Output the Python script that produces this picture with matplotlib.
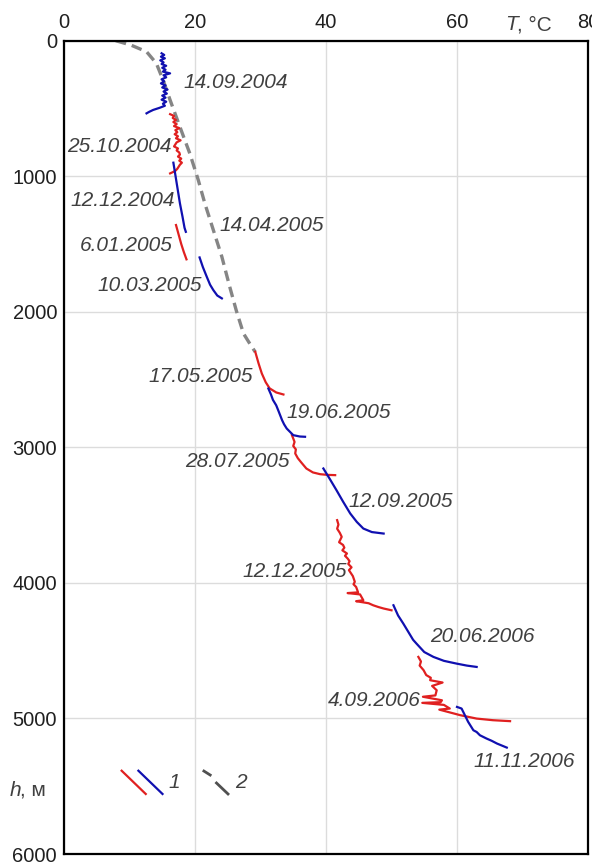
import matplotlib.pyplot as plt

plt.rcParams['font.family'] = ['Liberation Sans', 'DejaVu Sans']

# temperature profiles T (degC) vs depth h (m)
gray_T = [7.9, 10.2, 12.6, 14.1, 15.2, 16.2, 17.7, 19.2, 20.5, 21.5, 22.8, 24.1, 25.3, 26.3, 27.4, 28.3, 29.2]
gray_h = [0, 32, 81, 167, 300, 438, 636, 831, 1028, 1200, 1397, 1594, 1815, 1990, 2160, 2230, 2297]

s1409_T = [14.9, 15.3, 14.8, 15.4, 14.7, 15.2, 14.9, 15.6, 15.0, 15.5, 15.1, 16.2, 15.2, 15.6, 14.9, 15.3,
           14.8, 15.5, 15.0, 15.8, 15.2, 15.7, 15.0, 15.5, 14.9, 15.6, 15.1, 15.4, 14.6, 13.6, 13.0, 12.6]
s1409_h = [93, 105, 118, 130, 145, 160, 172, 185, 200, 214, 228, 241, 255, 270, 285, 300,
           315, 330, 345, 360, 375, 390, 405, 420, 435, 450, 465, 480, 495, 511, 525, 536]

s2510_T = [16.2, 16.8, 16.6, 17.1, 16.7, 17.2, 16.8, 17.6, 17.0, 17.3, 16.9, 17.4, 17.1, 17.8, 17.2, 17.0,
           16.8, 17.4, 17.2, 17.6, 17.7, 17.4, 17.9, 17.6, 18.0, 17.7, 17.5, 17.3, 17.0, 16.6, 16.2]
s2510_h = [542, 555, 570, 585, 600, 615, 630, 645, 660, 675, 690, 705, 720, 735, 750, 765,
           780, 795, 810, 825, 840, 855, 870, 885, 900, 915, 930, 945, 960, 970, 979]

s1212a_T = [16.7, 16.9, 17.3, 17.7, 18.1, 18.4, 18.6]
s1212a_h = [900, 960, 1080, 1200, 1300, 1380, 1410]

s0601_T = [17.1, 17.5, 17.9, 18.3, 18.7]
s0601_h = [1360, 1430, 1500, 1560, 1613]

s1003_T = [20.7, 21.2, 21.8, 22.3, 22.8, 23.4, 24.1]
s1003_h = [1599, 1670, 1742, 1800, 1840, 1880, 1901]

s1705_T = [29.2, 29.7, 30.2, 30.8, 31.4, 32.4, 33.5]
s1705_h = [2295, 2380, 2455, 2520, 2565, 2595, 2610]

s1906_T = [31.2, 31.6, 31.9, 32.4, 32.7, 33.3, 33.6, 34.0, 35.0, 36.0, 36.8]
s1906_h = [2566, 2610, 2650, 2690, 2726, 2800, 2830, 2861, 2910, 2920, 2922]

s2807_T = [34.8, 35.2, 35.0, 35.4, 35.3, 35.7, 36.2, 37.0, 38.0, 39.1, 40.2, 41.4]
s2807_h = [2910, 2960, 2990, 3015, 3045, 3080, 3110, 3156, 3185, 3198, 3203, 3205]

s1209_T = [39.6, 40.6, 41.6, 42.6, 43.7, 44.7, 45.7, 47.0, 48.8]
s1209_h = [3156, 3235, 3316, 3400, 3488, 3550, 3599, 3625, 3636]

s1212b_T = [41.7, 41.9, 41.7, 42.1, 42.4, 42.2, 42.0, 42.6, 42.8, 42.5, 43.2, 42.9, 43.3, 43.6, 43.4,
            43.9, 43.5, 44.1, 44.4, 44.2, 44.6, 44.9, 43.3, 45.2, 45.7, 44.6, 46.5, 47.2, 48.0, 48.8, 50.0]
s1212b_h = [3537, 3570, 3600, 3630, 3660, 3680, 3700, 3720, 3740, 3760, 3783, 3800, 3820, 3840, 3860,
            3885, 3906, 3950, 3992, 4010, 4030, 4070, 4075, 4085, 4128, 4135, 4150, 4165, 4178, 4189, 4202]

s2006_T = [50.3, 51.0, 51.8, 52.8, 53.3, 53.8, 55.0, 56.4, 58.0, 59.9, 61.5, 63.0]
s2006_h = [4165, 4240, 4300, 4380, 4420, 4447, 4510, 4546, 4575, 4595, 4610, 4620]

s0409_T = [54.1, 54.5, 54.3, 54.9, 55.3, 56.0, 55.9, 57.8, 56.2, 56.9, 56.7, 54.8, 57.7, 57.5, 54.7,
           58.0, 58.9, 57.3, 60.5, 63.0, 65.5, 68.1]
s0409_h = [4546, 4580, 4610, 4644, 4680, 4700, 4718, 4735, 4760, 4792, 4830, 4840, 4866, 4880, 4885,
           4900, 4927, 4935, 4976, 5001, 5013, 5020]

s1111_T = [60.0, 60.7, 61.2, 61.7, 62.5, 63.0, 63.5, 64.5, 65.3, 66.1, 67.6]
s1111_h = [4915, 4927, 4976, 5025, 5087, 5100, 5124, 5148, 5165, 5185, 5215]

red_series = [(s2510_T, s2510_h), (s0601_T, s0601_h), (s1705_T, s1705_h),
              (s2807_T, s2807_h), (s1212b_T, s1212b_h), (s0409_T, s0409_h)]
blue_series = [(s1409_T, s1409_h), (s1212a_T, s1212a_h), (s1003_T, s1003_h),
               (s1906_T, s1906_h), (s1209_T, s1209_h), (s2006_T, s2006_h), (s1111_T, s1111_h)]

# date labels: text, T, h, alignment
date_labels = ['14.09.2004', '25.10.2004', '12.12.2004', '6.01.2005', '10.03.2005', '14.04.2005',
               '17.05.2005', '19.06.2005', '28.07.2005', '12.09.2005', '12.12.2005', '20.06.2006',
               '4.09.2006', '11.11.2006']
label_T = [18.2, 16.5, 16.9, 16.6, 21.1, 23.8, 28.9, 34.0, 34.5, 43.4, 43.15, 55.9, 54.4, 62.5]
label_h = [312, 784, 1176, 1508, 1803, 1360, 2480, 2745, 3107, 3402, 3919, 4398, 4866, 5321]
label_ha = ['left', 'right', 'right', 'right', 'right', 'left', 'right', 'left', 'right',
            'left', 'right', 'left', 'right', 'left']

x_ticks = [0, 20, 40, 60, 80]
y_ticks = [0, 1000, 2000, 3000, 4000, 5000, 6000]

RED = '#e02020'
BLUE = '#1010b0'
GRAY = '#858585'
TXT = '#404040'

fig = plt.figure(figsize=(5.92, 8.63), dpi=100)
ax = fig.add_axes([64 / 592, 1 - 854 / 863, 524 / 592, 813.3 / 863])

ax.plot(gray_T, gray_h, color=GRAY, lw=2.4, dashes=(3.2, 1.8))
for T, h in red_series:
    ax.plot(T, h, color=RED, lw=1.6)
for T, h in blue_series:
    ax.plot(T, h, color=BLUE, lw=1.6)

for s, t, h, ha in zip(date_labels, label_T, label_h, label_ha):
    ax.text(t, h, s, ha=ha, va='center', fontsize=15, style='italic', color=TXT)

ax.set_xlim(0, 80)
ax.set_ylim(6000, 0)
ax.set_xticks(x_ticks)
ax.set_yticks(y_ticks)
ax.xaxis.tick_top()
ax.tick_params(length=0, labelsize=14.5, labelcolor='#202020')
ax.tick_params(axis='x', pad=6)
ax.tick_params(axis='y', pad=5)
ax.grid(True, color='#dcdcdc', lw=1)
for sp in ax.spines.values():
    sp.set_linewidth(1.6)
    sp.set_color('black')

# legend keys drawn by hand (diagonal strokes)
ax.plot([0.110, 0.156], [0.1024, 0.0738], transform=ax.transAxes, color=RED, lw=1.6)
ax.plot([0.142, 0.188], [0.1024, 0.0738], transform=ax.transAxes, color=BLUE, lw=1.6)
ax.text(0.199, 0.0873, '1', transform=ax.transAxes, ha='left', va='center', fontsize=15, style='italic', color=TXT)
ax.plot([0.267, 0.279], [0.102, 0.0971], transform=ax.transAxes, color='#505050', lw=2)
ax.plot([0.291, 0.313], [0.0873, 0.0738], transform=ax.transAxes, color='#505050', lw=2)
ax.text(0.326, 0.0873, '2', transform=ax.transAxes, ha='left', va='center', fontsize=15, style='italic', color=TXT)

# axis titles
fig.text(505 / 592, 1 - 25 / 863, 'T', ha='left', va='center', fontsize=15, style='italic', color=TXT)
fig.text(517 / 592, 1 - 25 / 863, ', °C', ha='left', va='center', fontsize=15, color=TXT)
fig.text(10 / 592, 1 - 790 / 863, 'h', ha='left', va='center', fontsize=15, style='italic', color=TXT)
fig.text(20 / 592, 1 - 790 / 863, ', м', ha='left', va='center', fontsize=15, color=TXT)

plt.savefig('out.png', dpi=100)
